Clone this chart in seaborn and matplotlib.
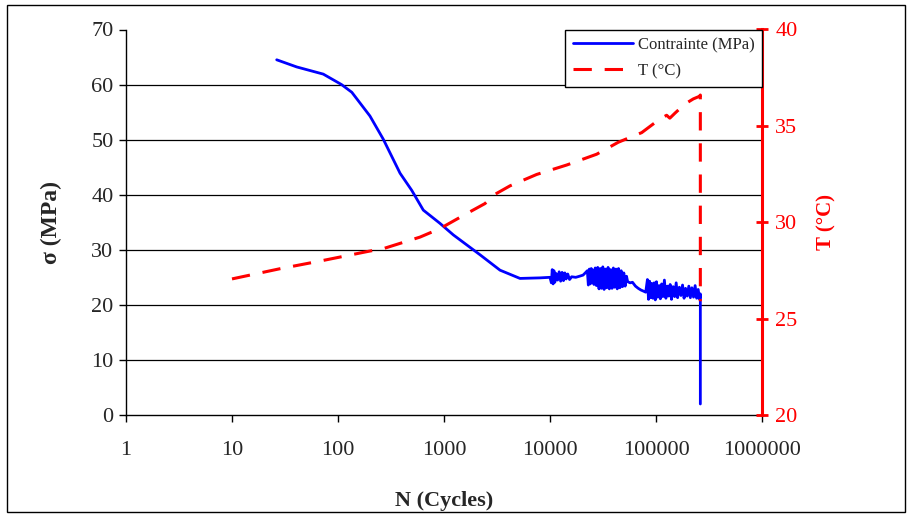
import matplotlib
matplotlib.use("Agg")
import matplotlib.pyplot as plt
import seaborn as sns
import pandas as pd
from matplotlib.patches import Rectangle

# ---- data ----
n_sigma = [26.4, 40.8, 72.6, 108, 135, 200, 267, 385, 496, 638, 916, 1225, 1890, 2185,
           3375, 3900, 5210, 8050, 10000,
           10300, 10500, 10700, 10900, 11100, 11400, 11800, 12200, 12600, 13000, 13400,
           13800, 14200, 14700, 15300, 16000, 17500, 19000, 20500, 21500, 22500,
           23000, 23500, 24000, 24500, 25000, 25500, 26000, 26700, 27400,
           28200, 29000, 29800, 30600, 31500, 32400, 33300, 34300, 35300, 36300, 37400,
           38500, 39600, 40700, 41900, 43100, 44300, 45600, 46900, 48300, 49700, 51200, 52700,
           54000, 57000, 60000, 64000, 68000, 72000, 76000, 80000,
           83000, 85000, 87000, 89000, 91000, 93500, 96000, 98500, 101000, 104000, 107000,
           110000, 113000, 116000, 120000, 124000, 128000, 132000, 136000, 140000, 145000,
           150000, 155000, 160000, 166000, 172000, 178000, 184000, 190000, 197000, 204000,
           211000, 218000, 226000, 234000, 242000, 250000, 258000, 262000, 262000]
sigma = [64.5, 63.2, 61.9, 60.0, 58.6, 54.3, 50.1, 43.9, 40.8, 37.2, 34.8, 32.7, 30.0, 29.1,
         26.3, 25.8, 24.8, 24.9, 25.0,
         24.0, 26.4, 23.8, 26.2, 24.1, 25.7, 24.5, 26.0, 24.3, 25.9, 24.4,
         25.8, 24.7, 25.6, 24.6, 25.1, 25.0, 25.2, 25.4, 25.8, 26.2,
         23.6, 26.5, 23.8, 26.6, 24.0, 26.3, 23.7, 26.7, 23.5,
         26.8, 22.9, 26.6, 23.0, 26.9, 22.8, 26.5, 23.1, 26.8, 22.9, 26.4,
         23.0, 26.7, 23.2, 26.5, 22.9, 26.6, 23.1, 26.2, 23.3, 25.8, 23.4, 25.2,
         24.2, 24.0, 24.1, 23.4, 23.0, 22.7, 22.5, 22.3,
         24.6, 21.0, 24.3, 21.3, 23.9, 21.2, 24.0, 20.9, 24.2, 21.4, 23.5,
         21.1, 23.8, 21.5, 24.5, 21.2, 23.4, 21.6, 23.7, 21.0, 23.3,
         21.5, 24.0, 21.3, 23.2, 21.7, 23.6, 21.2, 23.0, 21.6, 23.4,
         21.3, 23.1, 21.4, 23.5, 21.2, 22.8, 21.0, 22.0, 2.0]

n_temp = [10, 28.4, 72.6, 193, 267, 594, 916, 1637, 2437, 2918, 4198, 7487, 14380,
          27560, 44060, 73300, 109000, 126000, 135000, 151000, 187000, 225000, 256000,
          262000, 262000]
temp = [27.06, 27.59, 28.02, 28.49, 28.63, 29.23, 29.67, 30.45, 30.97, 31.4, 31.89,
        32.48, 32.97, 33.53, 34.15, 34.65, 35.36, 35.55, 35.4, 35.66, 36.13, 36.4,
        36.53, 36.6, 25.9]

x_ticks = [1, 10, 100, 1000, 10000, 100000, 1000000]
x_tick_labels = ["1", "10", "100", "1000", "10000", "100000", "1000000"]
sigma_ticks = [0, 10, 20, 30, 40, 50, 60, 70]
temp_ticks = [20, 25, 30, 35, 40]

df_s = pd.DataFrame({"N": n_sigma, "sigma": sigma})
df_t = pd.DataFrame({"N": n_temp, "T": temp})

sns.set_style("white")
plt.rcParams["font.family"] = ["Liberation Serif", "DejaVu Serif"]

fig = plt.figure(figsize=(9.07, 5.16), dpi=100)
ax = fig.add_axes([126 / 907, 1 - 415 / 516, (762 - 126) / 907, (415 - 29.5) / 516])
ax2 = ax.twinx()

sns.lineplot(data=df_s, x="N", y="sigma", ax=ax, sort=False, estimator=None,
             color="#0000FF", lw=2.0, label="Contrainte (MPa)", legend=False)
sns.lineplot(data=df_t, x="N", y="T", ax=ax2, sort=False, estimator=None,
             color="#FF0000", lw=2.2, dashes=False, label="T (°C)", legend=False)
for ln in ax2.get_lines():
    ln.set_dashes((6, 4.2))

ax.set_xscale("log")
ax.set_xlim(1, 1000000)
ax.set_ylim(0, 70)
ax2.set_ylim(20, 40)
ax.set_xticks(x_ticks)
ax.set_xticklabels(x_tick_labels)
ax.xaxis.set_minor_locator(matplotlib.ticker.NullLocator())
ax.set_yticks(sigma_ticks)
ax2.set_yticks(temp_ticks)

for v in sigma_ticks[1:-1]:
    ax.axhline(v, color="black", lw=0.9, zorder=0)

for s in ["top", "right"]:
    ax.spines[s].set_visible(False)
for s in ["top", "left", "bottom"]:
    ax2.spines[s].set_visible(False)
ax.spines["left"].set_color("black")
ax.spines["bottom"].set_color("black")
ax.spines["left"].set_linewidth(1.0)
ax.spines["bottom"].set_linewidth(1.0)
ax2.spines["right"].set_color("#FF0000")
ax2.spines["right"].set_linewidth(2.2)

ax.tick_params(axis="x", direction="out", length=5, width=1, color="black",
               labelsize=16, pad=14, bottom=True)
ax.tick_params(axis="y", direction="out", length=5, width=1, color="black",
               labelsize=16, pad=4, left=True)
ax2.tick_params(axis="y", direction="inout", length=9, width=2, color="#FF0000",
                labelcolor="#FF0000", labelsize=16, pad=5, right=True)

ax.set_xlabel("N (Cycles)", fontsize=16, fontweight="bold")
ax.set_ylabel("σ (MPa)", fontsize=17, fontweight="bold")
ax2.set_ylabel("T (°C)", fontsize=15, fontweight="bold", color="#FF0000")
ax.xaxis.set_label_coords(0.5, -0.197)
ax.yaxis.set_label_coords(-0.10, 0.5)
ax2.yaxis.set_label_coords(1.085, 0.5)

h1, l1 = ax.get_legend_handles_labels()
h2, l2 = ax2.get_legend_handles_labels()
leg = ax2.legend(h1 + h2, l1 + l2, loc="upper right", bbox_to_anchor=(1.0, 1.0),
                 borderaxespad=0, fontsize=12, handlelength=3.6, frameon=True,
                 fancybox=False, edgecolor="black", framealpha=1, borderpad=0.45,
                 labelspacing=0.6, handletextpad=0.3)
leg.get_frame().set_linewidth(1.0)

fig.patches.append(Rectangle((7 / 907, 1 - 512 / 516), 898 / 907, 507 / 516,
                             transform=fig.transFigure, fill=False,
                             edgecolor="black", lw=1.0))

fig.savefig("out.png", dpi=100)
